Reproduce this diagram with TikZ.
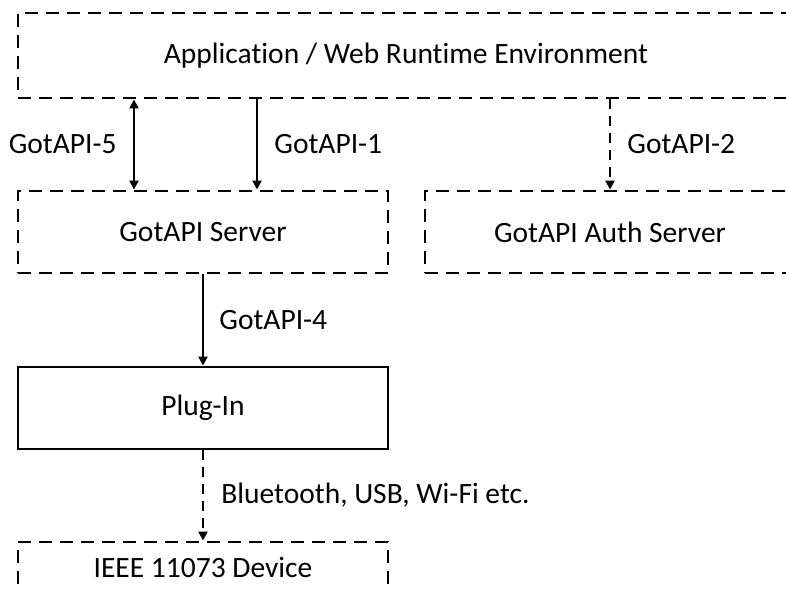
\documentclass[tikz,border=0pt]{standalone}
\usepackage{fontspec}
\setmainfont{Carlito}[Ligatures=NoCommon]
\usetikzlibrary{arrows.meta}
\begin{document}
\begin{tikzpicture}[x=1pt,y=-1pt,
  box/.style={draw,line width=2.9pt,minimum width=370pt,minimum height=82pt,inner sep=0pt,font=\fontsize{29.5}{34}\selectfont},
  dbox/.style={box,dash pattern=on 13pt off 8pt},
  lbl/.style={font=\fontsize{29.5}{34}\selectfont,inner sep=0pt},
  conn/.style={line width=2.8pt,-{Triangle[length=9pt,width=9pt]}},
  dconn/.style={conn,dash pattern=on 10pt off 7pt},
  bconn/.style={line width=2.8pt,{Triangle[length=9pt,width=9pt]}-{Triangle[length=9pt,width=9pt]}}]
\useasboundingbox (0,0) rectangle (786,589);
\clip (0,0) rectangle (786,589);
\node[dbox,minimum width=776pt,minimum height=85pt] (app) at (406,55.5) {Application / Web Runtime Environment};
\node[dbox] (server) at (203,232) {GotAPI Server};
\node[dbox] (auth) at (610,232) {GotAPI Auth Server};
\node[box] (plugin) at (203,408) {Plug-In};
\node[dbox,minimum height=50pt] (device) at (203,567) {IEEE 11073 Device};
\coordinate (c5) at (134,0);
\coordinate (c1) at (257,0);
\coordinate (c2) at (610,0);
\draw[bconn] (c5 |- app.south) -- (c5 |- server.north) node[midway,left=16pt,lbl] (l5) {GotAPI-5};
\draw[conn] (c1 |- app.south) -- (c1 |- server.north) node[midway,right=16pt,lbl] (l1) {GotAPI-1};
\draw[dconn] (c2 |- app.south) -- (auth.north) node[midway,right=16pt,lbl] (l2) {GotAPI-2};
\draw[conn] (server.south) -- (plugin.north) node[midway,right=15pt,lbl] (l4) {GotAPI-4};
\draw[dconn] (plugin.south) -- (device.north) node[midway,right=17pt,lbl] (lb) {Bluetooth, USB, Wi-Fi etc.};
\end{tikzpicture}
\end{document}
